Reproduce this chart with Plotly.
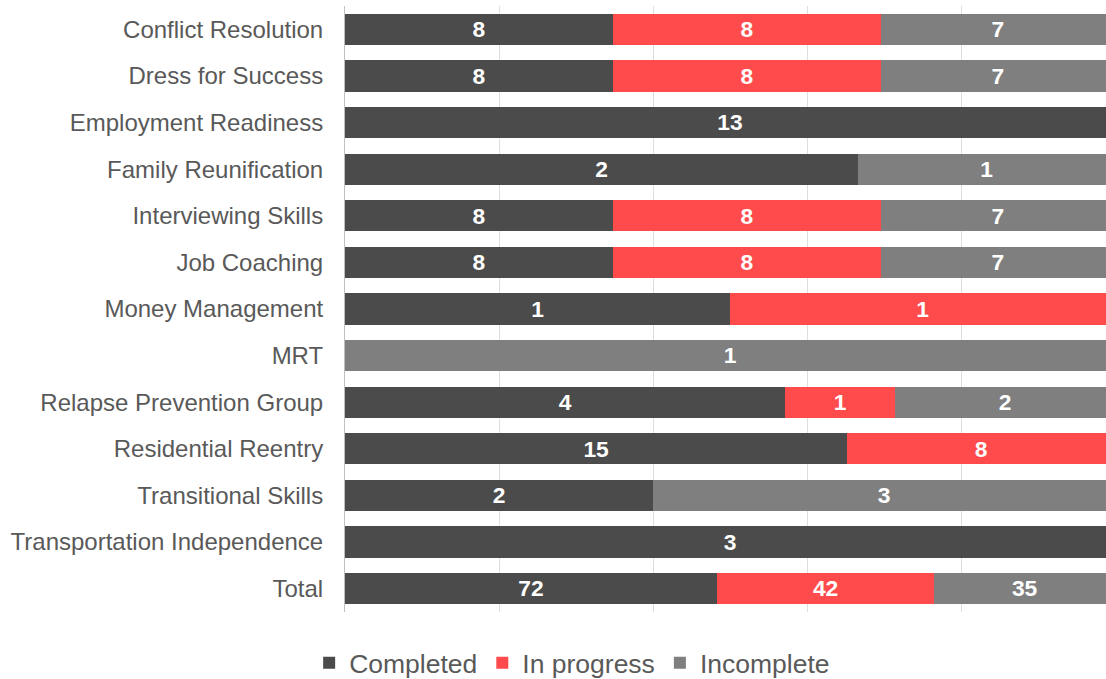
import plotly.graph_objects as go

categories = ["Conflict Resolution", "Dress for Success", "Employment Readiness",
              "Family Reunification", "Interviewing Skills", "Job Coaching",
              "Money Management", "MRT", "Relapse Prevention Group",
              "Residential Reentry", "Transitional Skills",
              "Transportation Independence", "Total"]
completed = [8, 8, 13, 2, 8, 8, 1, 0, 4, 15, 2, 3, 72]
in_progress = [8, 8, 0, 0, 8, 8, 1, 0, 1, 8, 0, 0, 42]
incomplete = [7, 7, 0, 1, 7, 7, 0, 1, 2, 0, 3, 0, 35]

series = [("Completed", completed, "#4b4b4b"),
          ("In progress", in_progress, "#ff4b4b"),
          ("Incomplete", incomplete, "#7f7f7f")]

fig = go.Figure()
for name, vals, color in series:
    fig.add_trace(go.Bar(
        name=name, y=categories, x=vals, orientation="h",
        marker=dict(color=color, line=dict(width=0)),
        text=[f"<b>{v}</b>" if v else "" for v in vals],
        textposition="inside", insidetextanchor="middle", textangle=0,
        textfont=dict(color="white", size=23.5, family="Liberation Sans"),
        hoverinfo="x+y+name",
    ))

fig.update_layout(
    barmode="stack", barnorm="percent", bargap=0.33,
    width=1115, height=687,
    margin=dict(l=345, r=0, t=6, b=75),
    plot_bgcolor="white", paper_bgcolor="white",
    font=dict(family="Liberation Sans", color="#595959", size=24),
    legend=dict(orientation="h", x=0.295, xanchor="center",
                yref="container", y=0.0, yanchor="bottom",
                font=dict(size=26.5, color="#595959"), traceorder="normal",
                itemwidth=30, tracegroupgap=0),
    uniformtext=dict(mode=False),
)
fig.update_xaxes(range=[0, 100], dtick=20, showticklabels=False, showgrid=True,
                 gridcolor="rgba(0,0,0,0.13)", gridwidth=1, zeroline=False,
                 layer="above traces", fixedrange=True)
fig.update_yaxes(autorange="reversed", showline=True, linecolor="#bfbfbf", linewidth=1,
                 ticks="", ticklen=0, tickfont=dict(size=24, color="#595959"),
                 ticklabelstandoff=16, layer="above traces")
fig.write_html("out.html", config={"displayModeBar": False},
               post_script="document.body.style.margin='0';document.body.style.overflow='hidden';")
